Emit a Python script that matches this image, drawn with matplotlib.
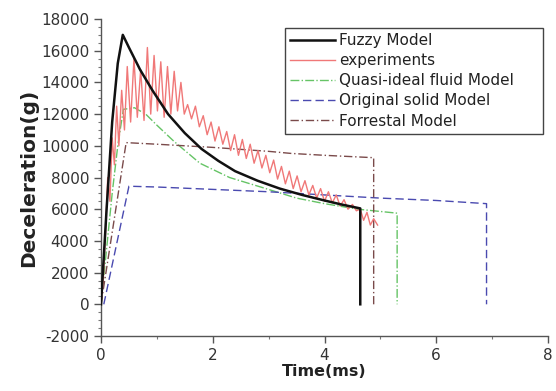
import matplotlib
matplotlib.use("Agg")
import matplotlib.pyplot as plt
from matplotlib.ticker import MultipleLocator

plt.rcParams['font.family'] = ['DejaVu Sans']
plt.rcParams['axes.unicode_minus'] = False

# Fuzzy Model
fuzzy_t = [0, 0.1, 0.2, 0.3, 0.39, 0.5, 0.7, 0.92, 1.2, 1.5, 1.8, 2.1, 2.4, 2.8, 3.2, 3.6, 4.0, 4.3, 4.64, 4.64]
fuzzy_v = [0, 6000, 11500, 15200, 17000, 16200, 14800, 13500, 12000, 10800, 9800, 9050, 8400, 7800, 7300, 6900, 6550, 6300, 6050, 0]

# experiments
exp_t = [0.00, 0.04, 0.08, 0.12, 0.16, 0.20, 0.24, 0.28, 0.32, 0.37, 0.42, 0.47, 0.53, 0.59, 0.65,
         0.71, 0.77, 0.83, 0.89, 0.95, 1.01, 1.07, 1.13, 1.19, 1.25, 1.31, 1.37, 1.43, 1.49, 1.55,
         1.62, 1.69, 1.76, 1.83, 1.90, 1.97, 2.04, 2.11, 2.18, 2.25, 2.32, 2.39, 2.46, 2.53, 2.60,
         2.67, 2.74, 2.81, 2.88, 2.95, 3.02, 3.09, 3.16, 3.23, 3.30, 3.37, 3.44, 3.51, 3.58, 3.65,
         3.72, 3.79, 3.86, 3.93, 4.00, 4.07, 4.14, 4.21, 4.28, 4.35, 4.42, 4.50, 4.57, 4.64, 4.70,
         4.76, 4.82, 4.88, 4.95]
exp_v = [0, 1500, 4500, 8000, 6500, 10500, 8800, 12500, 10000, 13500, 11000, 15000, 11500, 15500, 11800,
         14800, 11600, 16200, 12000, 15700, 12200, 15300, 11800, 15000, 12000, 14700, 12200, 14000, 12000, 12600,
         11700, 12500, 11200, 11900, 10700, 11500, 10300, 11200, 10100, 10900, 9700, 10700, 9400, 10400, 9200,
         10100, 8900, 9700, 8600, 9400, 8300, 9100, 7900, 8700, 7600, 8400, 7300, 8100, 7100, 7800,
         6900, 7500, 6700, 7300, 6500, 7100, 6400, 6900, 6200, 6600, 6000, 6300, 5900, 6000, 5300,
         5800, 5000, 5400, 5000]

# Quasi-ideal fluid Model
quasi_t = [0, 0.1, 0.2, 0.3, 0.4, 0.6, 0.8, 1.0, 1.3, 1.77, 2.3, 2.95, 3.5, 4.0, 4.6, 5.3, 5.3]
quasi_v = [0, 3500, 7000, 10000, 12300, 12400, 12000, 11300, 10300, 8900, 8000, 7300, 6700, 6350, 6000, 5750, 0]

# Original solid Model
solid_t = [0.05, 0.5, 1.0, 2.0, 3.0, 4.0, 5.0, 6.0, 6.9, 6.9]
solid_v = [0, 7450, 7400, 7250, 7100, 6900, 6700, 6550, 6350, 0]

# Forrestal Model
forr_t = [0, 0.45, 1.0, 2.0, 3.0, 3.4, 4.0, 4.88, 4.88]
forr_v = [0, 10200, 10100, 9900, 9650, 9520, 9400, 9250, 0]

labels = ["Fuzzy Model", "experiments", "Quasi-ideal fluid Model", "Original solid Model", "Forrestal Model"]

fig = plt.figure(figsize=(5.56, 3.91), dpi=100)
ax = fig.add_axes([101/556, 55/391, 447/556, 317/391])

ax.plot(fuzzy_t, fuzzy_v, color='#111111', lw=1.8, label=labels[0], zorder=5)
ax.plot(exp_t, exp_v, color='#f07878', lw=1.0, label=labels[1], zorder=4)
ax.plot(quasi_t, quasi_v, color='#66c466', lw=1.0, ls='-.', label=labels[2], zorder=3)
ax.plot(solid_t, solid_v, color='#4a4ab0', lw=1.0, ls=(0, (6, 3)), label=labels[3], zorder=3)
ax.plot(forr_t, forr_v, color='#7a4a4a', lw=1.0, ls=(0, (6, 2, 1, 2)), label=labels[4], zorder=3)

ax.set_xlim(0, 8)
ax.set_ylim(-2000, 18000)
ax.xaxis.set_major_locator(MultipleLocator(2))
ax.xaxis.set_minor_locator(MultipleLocator(1))
ax.yaxis.set_major_locator(MultipleLocator(2000))
ax.yaxis.set_minor_locator(MultipleLocator(500))

for s in ['top', 'right']:
    ax.spines[s].set_visible(False)
for s in ['left', 'bottom']:
    ax.spines[s].set_color('#555555')
    ax.spines[s].set_linewidth(1.0)

ax.tick_params(which='major', direction='out', length=5, width=1, color='#555555',
               labelcolor='#333333', labelsize=11)
ax.tick_params(which='minor', direction='out', length=2.5, width=0.8, color='#777777')

ax.set_xlabel('Time(ms)', fontsize=11.5, fontweight='bold', color='#222222', labelpad=1)
ax.set_ylabel('Deceleration(g)', fontsize=14.5, fontweight='bold', color='#222222', labelpad=2)

# legend box spans roughly px x 285..543, y 28..135 in the reference
x0 = (285 - 101) / 447
x1 = (543 - 101) / 447
y1 = (336 - 28) / 317
y0 = (336 - 135) / 317
leg = ax.legend(loc='upper left', bbox_to_anchor=(x0, y0, x1 - x0, y1 - y0), mode='expand',
                fontsize=11, handlelength=2.9, labelspacing=0.33, borderpad=0.35, handletextpad=0.3,
                frameon=True, fancybox=False, framealpha=1, edgecolor='#444444', borderaxespad=0)
leg.get_frame().set_linewidth(1.0)
for t in leg.get_texts():
    t.set_color('#222222')

fig.savefig('out.png', dpi=100)
